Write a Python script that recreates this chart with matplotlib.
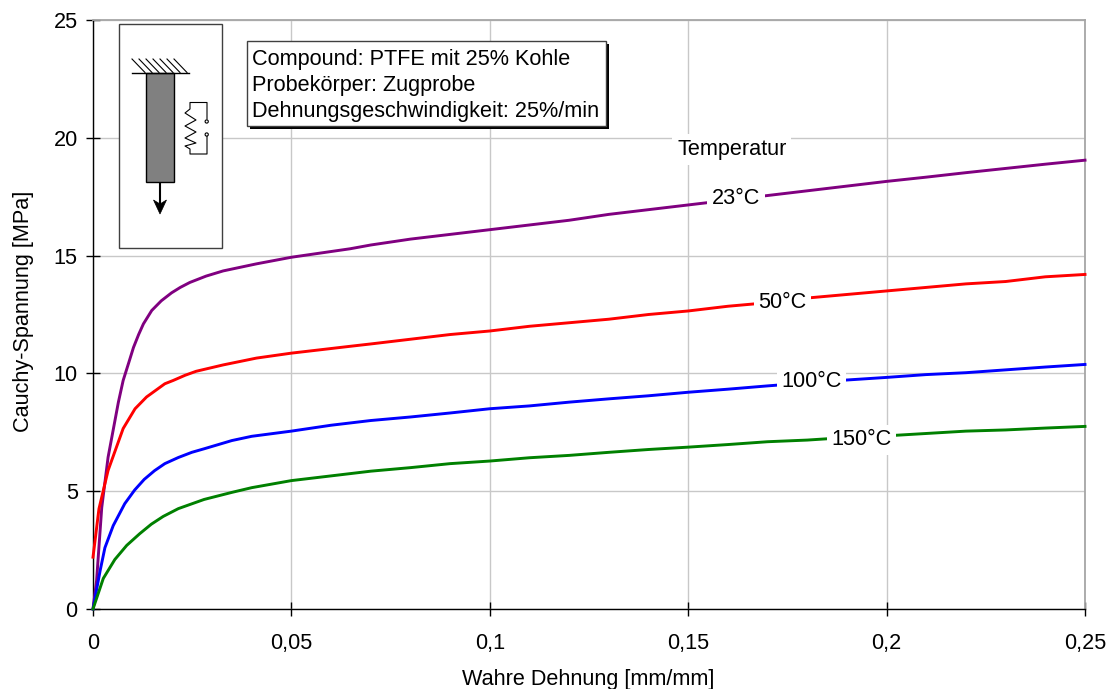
import matplotlib
matplotlib.use("Agg")
import matplotlib.pyplot as plt
from matplotlib.patches import Rectangle, Circle, Polygon

plt.rcParams["font.family"] = ["Liberation Sans", "DejaVu Sans"]
FS = 15.6
plt.rcParams["font.size"] = FS

# curves
x_23 = [0, 0.0009, 0.0022, 0.0038, 0.0064, 0.0076, 0.0090, 0.0102, 0.0115, 0.0127, 0.0148, 0.0172, 0.0198, 0.022, 0.0244, 0.0285, 0.0328, 0.0412, 0.05,
        0.0648, 0.07, 0.08, 0.09, 0.10, 0.11, 0.12, 0.13, 0.14, 0.15, 0.17, 0.18, 0.19, 0.20, 0.21, 0.22, 0.23, 0.24, 0.25]
y_23 = [0, 1.2, 4.3, 6.44, 8.78, 9.7, 10.45, 11.1, 11.65, 12.1, 12.67, 13.08, 13.42, 13.65, 13.86, 14.13, 14.35, 14.65, 14.93,
        15.29, 15.45, 15.7, 15.9, 16.1, 16.3, 16.5, 16.75, 16.95, 17.15, 17.55, 17.75, 17.95, 18.15, 18.33, 18.52, 18.7, 18.88, 19.05]

x_50 = [0, 0.0015, 0.0038, 0.0076, 0.0106, 0.0135, 0.0181, 0.0202, 0.0232, 0.026, 0.0328, 0.0412, 0.05,
        0.0648, 0.07, 0.08, 0.09, 0.10, 0.11, 0.12, 0.13, 0.14, 0.15, 0.16, 0.17, 0.18, 0.19, 0.20, 0.21, 0.22, 0.23, 0.24, 0.25]
y_50 = [2.2, 4.25, 5.88, 7.66, 8.5, 9.0, 9.56, 9.7, 9.92, 10.09, 10.36, 10.65, 10.86,
        11.15, 11.25, 11.45, 11.65, 11.8, 12.0, 12.15, 12.3, 12.5, 12.65, 12.85, 13.0, 13.2, 13.35, 13.5, 13.65, 13.8, 13.9, 14.1, 14.2]

x_100 = [0, 0.0018, 0.003, 0.0051, 0.008, 0.0105, 0.0129, 0.0155, 0.0181, 0.0215, 0.0249, 0.028, 0.035, 0.04, 0.05,
         0.06, 0.07, 0.08, 0.09, 0.10, 0.11, 0.12, 0.13, 0.14, 0.15, 0.16, 0.17, 0.18, 0.19, 0.20, 0.21, 0.22, 0.23, 0.24, 0.25]
y_100 = [0, 1.63, 2.6, 3.54, 4.47, 5.05, 5.5, 5.87, 6.17, 6.43, 6.65, 6.8, 7.15, 7.33, 7.55,
         7.8, 8.0, 8.15, 8.32, 8.5, 8.62, 8.78, 8.92, 9.05, 9.2, 9.33, 9.47, 9.6, 9.72, 9.83, 9.95, 10.03, 10.15, 10.27, 10.38]

x_150 = [0, 0.0026, 0.0055, 0.0085, 0.0118, 0.0147, 0.0177, 0.0215, 0.028, 0.035, 0.04, 0.05,
         0.06, 0.07, 0.08, 0.09, 0.10, 0.11, 0.12, 0.13, 0.14, 0.15, 0.16, 0.17, 0.18, 0.19, 0.20, 0.21, 0.22, 0.23, 0.24, 0.25]
y_150 = [0, 1.3, 2.1, 2.7, 3.2, 3.6, 3.93, 4.26, 4.65, 4.95, 5.15, 5.45,
         5.65, 5.85, 6.0, 6.17, 6.28, 6.42, 6.52, 6.65, 6.77, 6.87, 6.98, 7.1, 7.17, 7.28, 7.35, 7.45, 7.55, 7.6, 7.68, 7.75]

x_ticks = [0, 0.05, 0.1, 0.15, 0.2, 0.25]
x_labels = ["0", "0,05", "0,1", "0,15", "0,2", "0,25"]
y_ticks = [0, 5, 10, 15, 20, 25]

W, H = 1112, 689
fig = plt.figure(figsize=(W / 100, H / 100), dpi=100, facecolor="white")
ax = fig.add_axes([93 / W, 1 - 609 / H, (1085 - 93) / W, (609 - 20) / H])

ax.plot(x_23, y_23, color="#800080", lw=2.1, zorder=3, clip_on=False)
ax.plot(x_50, y_50, color="#ff0000", lw=2.1, zorder=3, clip_on=False)
ax.plot(x_100, y_100, color="#0000ff", lw=2.1, zorder=3, clip_on=False)
ax.plot(x_150, y_150, color="#008000", lw=2.1, zorder=3, clip_on=False)

ax.set_xlim(0, 0.25)
ax.set_ylim(0, 25)
ax.set_xticks(x_ticks)
ax.set_xticklabels(x_labels)
ax.set_yticks(y_ticks)
ax.grid(True, color="#c8c8c8", lw=1)
ax.set_axisbelow(True)
for s in ["top", "right"]:
    ax.spines[s].set_color("#a6a6a6")
    ax.spines[s].set_linewidth(1.3)
for s in ["left", "bottom"]:
    ax.spines[s].set_linewidth(1)
ax.tick_params(axis="both", direction="inout", length=10, width=1, labelsize=FS)
ax.tick_params(axis="x", pad=12)
ax.tick_params(axis="y", pad=6)
ax.set_xlabel("Wahre Dehnung [mm/mm]", fontsize=FS, va="center")
ax.set_ylabel("Cauchy-Spannung [MPa]", fontsize=FS, va="center")
ax.xaxis.set_label_coords(0.4995, -(680 - 609) / 589)
ax.yaxis.set_label_coords(-(93 - 24) / 992, 0.505)

white = dict(facecolor="white", edgecolor="none", pad=3.5)
ax.text(0.16205, 17.41, "23°C", ha="center", va="center", bbox=white, zorder=4)
ax.text(0.17376, 13.0, "50°C", ha="center", va="center", bbox=white, zorder=4)
ax.text(0.18107, 9.65, "100°C", ha="center", va="center", bbox=white, zorder=4)
ax.text(0.19367, 7.18, "150°C", ha="center", va="center", bbox=white, zorder=4)
ax.text(0.161, 19.51, "Temperatur", ha="center", va="center", bbox=white, zorder=4)

# overlay in pixel coordinates for the sketch and the info box
ov = fig.add_axes([0, 0, 1, 1], facecolor="none")
ov.set_xlim(0, W)
ov.set_ylim(H, 0)
ov.axis("off")

ov.add_patch(Rectangle((119, 24), 103, 224, fc="white", ec="#404040", lw=1))
ov.plot([131.5, 188.5], [72.5, 72.5], color="black", lw=1)
for hx in range(132, 176, 7):
    ov.plot([hx, hx + 13], [59, 72.5], color="black", lw=0.8)
ov.add_patch(Rectangle((145.5, 72.5), 28, 109.5, fc="#808080", ec="black", lw=1))
ov.plot([160, 160], [184, 208], color="black", lw=1.5)
ov.add_patch(Polygon([[153.5, 200], [160, 204], [166.5, 200], [160, 214]], fc="black", ec="black", lw=0.5))

ov.plot([207, 207, 190, 190, 185, 196, 185, 196, 185, 196, 185, 190, 190, 207, 207],
        [119, 102.5, 102.5, 109, 113, 120, 126, 132, 138, 143, 146, 149, 154, 154, 136.5],
        color="black", lw=0.8)
ov.add_patch(Circle((206.7, 121.5), 1.6, fc="white", ec="black", lw=0.8))
ov.add_patch(Circle((206.7, 134.5), 1.6, fc="white", ec="black", lw=0.8))

ov.add_patch(Rectangle((250, 44), 359, 85, fc="black", ec="none"))
ov.add_patch(Rectangle((247, 41), 359, 85, fc="white", ec="#404040", lw=1))
ov.text(252, 59.5, "Compound: PTFE mit 25% Kohle", fontsize=FS, va="center")
ov.text(252, 85.5, "Probekörper: Zugprobe", fontsize=FS, va="center")
ov.text(252, 112, "Dehnungsgeschwindigkeit: 25%/min", fontsize=FS, va="center")

fig.savefig("out.png", dpi=100)
